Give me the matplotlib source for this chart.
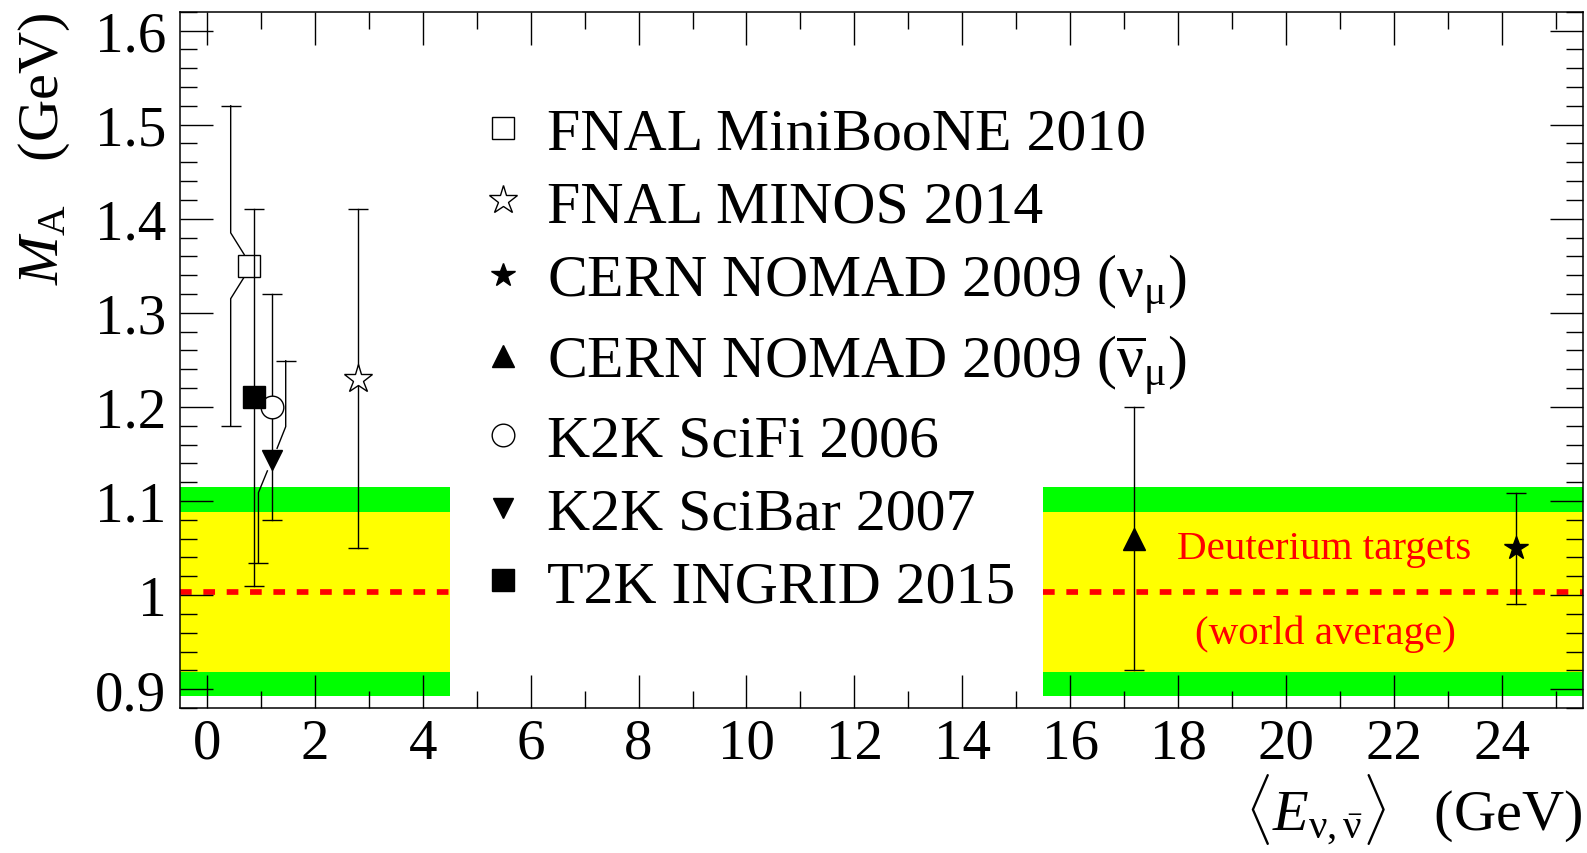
import numpy as np
import matplotlib
matplotlib.use("Agg")
import matplotlib.pyplot as plt
from matplotlib.lines import Line2D
from matplotlib.ticker import MultipleLocator, FuncFormatter

plt.rcParams['font.family'] = ['Liberation Serif', 'DejaVu Serif']
plt.rcParams['mathtext.fontset'] = 'custom'
plt.rcParams['mathtext.rm'] = 'Liberation Serif'
plt.rcParams['mathtext.it'] = 'Liberation Serif:italic'
plt.rcParams['mathtext.bf'] = 'Liberation Serif:bold'

# M_A measurements (legend order)
labels = ["FNAL MiniBooNE 2010",
          "FNAL MINOS 2014",
          r"CERN NOMAD 2009 ($\mathrm{\nu}_{\mathrm{\mu}}$)",
          r"CERN NOMAD 2009 ($\overline{\mathrm{\nu}}_{\mathrm{\mu}}$)",
          "K2K SciFi 2006",
          "K2K SciBar 2007",
          "T2K INGRID 2015"]
energy = [0.78, 2.80, 24.27, 17.18, 1.21, 1.21, 0.87]
ma = [1.35, 1.23, 1.05, 1.06, 1.20, 1.144, 1.21]
err_up = [0.17, 0.18, 0.058, 0.14, 0.12, 0.105, 0.20]
err_dn = [0.17, 0.18, 0.06, 0.14, 0.12, 0.11, 0.20]
# energy at which the error bar is drawn (shifted for readability)
bar_x_up = [0.44, 2.80, 24.27, 17.18, 1.21, 1.46, 0.87]
bar_x_dn = [0.44, 2.80, 24.27, 17.18, 1.21, 0.955, 0.87]
markers = ['s', '*', '*', '^', 'o', 'v', 's']
filled = [False, False, True, True, False, True, True]
msizes = [15.8, 21.0, 17.5, 15.8, 16.3, 15.0, 15.8]

# deuterium world average
wa_mean = 1.0035
wa_inner = 0.085
wa_outer = 0.111
band_ranges = [(-0.5, 4.5), (15.5, 25.5)]

fig = plt.figure(figsize=(15.87, 8.54), dpi=100)
ax = fig.add_axes([0.1134, 0.1698, 0.9973 - 0.1134, 0.9851 - 0.1698])

for x0, x1 in band_ranges:
    ax.fill_between([x0, x1], wa_mean - wa_outer, wa_mean + wa_outer,
                    color=(0, 1, 0), lw=0, zorder=0)
    ax.fill_between([x0, x1], wa_mean - wa_inner, wa_mean + wa_inner,
                    color=(1, 1, 0), lw=0, zorder=0.5)
    ax.plot([x0, x1], [wa_mean, wa_mean], color='red', lw=4.1,
            dashes=(2.05, 2.05), zorder=1)

ax.text(20.7, 1.049, "Deuterium targets", color='red', fontsize=29.5,
        ha='center', va='center', zorder=2)
ax.text(20.74, 0.959, "(world average)", color='red', fontsize=29.5,
        ha='center', va='center', zorder=2)


def draw_bar(x, y, bx, end, sign, z):
    if abs(bx - x) < 1e-9:
        ax.plot([x, x], [y, end], color='k', lw=1, zorder=z)
    else:
        # kinked connector from marker edge to the shifted bar
        edge_x = x + 0.09 * np.sign(bx - x)
        ax.plot([edge_x, bx, bx], [y + sign * 0.012, y + sign * 0.035, end],
                color='k', lw=1, zorder=z)
    ax.plot([bx], [end], marker='_', ms=15, mew=1, color='k', zorder=z)


handles = []
for i in range(len(labels)):
    z = 3 + i
    draw_bar(energy[i], ma[i], bar_x_up[i], ma[i] + err_up[i], 1, z)
    draw_bar(energy[i], ma[i], bar_x_dn[i], ma[i] - err_dn[i], -1, z)
    face = 'k' if filled[i] else 'white'
    ax.plot([energy[i]], [ma[i]], ls='none', marker=markers[i], ms=msizes[i],
            mfc=face, mec='k', mew=1, zorder=z + 0.5)
    handles.append(Line2D([], [], ls='none', marker=markers[i], ms=msizes[i],
                          mfc=face, mec='k', mew=1))

ax.legend(handles, labels, loc='upper left', bbox_to_anchor=(0.213, 0.8635),
          frameon=False, fontsize=43, handlelength=0.8, handletextpad=0.34,
          labelspacing=0.30, borderpad=0, borderaxespad=0, numpoints=1)

ax.set_xlim(-0.5, 25.5)
ax.set_ylim(0.88, 1.62)
ax.xaxis.set_major_locator(MultipleLocator(2))
ax.xaxis.set_minor_locator(MultipleLocator(1))
ax.yaxis.set_major_locator(MultipleLocator(0.1))
ax.yaxis.set_minor_locator(MultipleLocator(0.02))
ax.yaxis.set_major_formatter(FuncFormatter(lambda v, p: "%g" % round(v, 2)))
ax.xaxis.set_major_formatter(FuncFormatter(lambda v, p: "%d" % round(v)))
ax.tick_params(which='both', direction='in', top=True, right=True, width=1)
ax.tick_params(which='major', length=23.8, labelsize=41)
ax.tick_params(which='minor', length=12)
ax.tick_params(axis='x', which='major', pad=7)
ax.tick_params(axis='y', which='major', pad=10)
for s in ax.spines.values():
    s.set_linewidth(1.1)

ax.set_ylabel(r"$M_{\mathrm{A}}$   (GeV)", fontsize=42, loc='top')
ax.yaxis.set_label_coords(-0.077, 1.0)
ax.set_xlabel(r"$\langle E_{\mathrm{\nu},\bar{\mathrm{\nu}}}\rangle$   (GeV)",
              fontsize=42, loc='right')
ax.xaxis.set_label_coords(1.0, -0.092)

fig.savefig("out.png", dpi=100)
